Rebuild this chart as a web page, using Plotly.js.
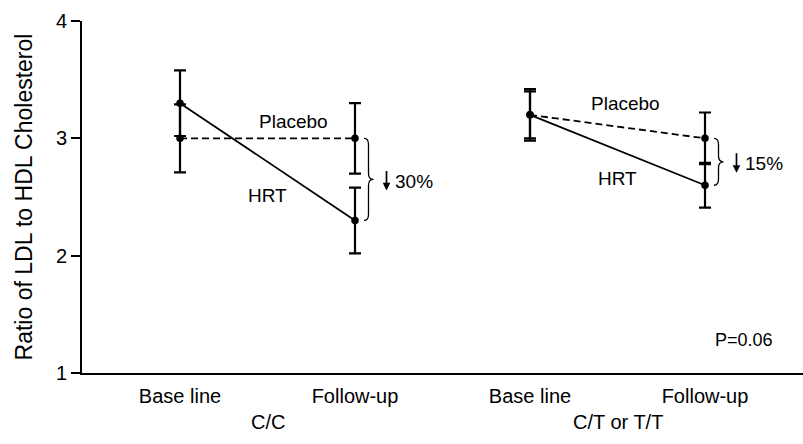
<!DOCTYPE html>
<html>
<head>
<meta charset="utf-8">
<script src="https://cdn.plot.ly/plotly-3.0.1.min.js"></script>
<style>html,body{margin:0;padding:0;background:#fff;}#chart{width:803px;height:444px;}</style>
</head>
<body>
<div id="chart"></div>
<script>
// ---- data ----
const timepoints = ['Base line', 'Follow-up', 'Base line', 'Follow-up'];
const groups = ['C/C', 'C/T or T/T'];
const hrtCC = [3.3, 2.3];
const hrtCCerr = [0.28, 0.28];
const placeboCC = [3.0, 3.0];
const placeboCCerr = [0.29, 0.30];
const hrtCT = [3.2, 2.6];
const hrtCTerr = [0.20, 0.19];
const placeboCT = [3.2, 3.0];
const placeboCTerr = [0.22, 0.22];
const reductions = ['30%', '15%'];
const pText = 'P=0.06';

// ---- layout helpers ----
const W = 803, H = 444;
const M = {l: 82, r: 0, t: 21, b: 71};
const xRange = [-0.56, 3.56];
const yRange = [1, 4];
const pxX = (W - M.l - M.r) / (xRange[1] - xRange[0]);
const pxY = (H - M.t - M.b) / (yRange[1] - yRange[0]);
const dx = p => p / pxX;
const dy = p => p / pxY;
const FONT = 'Liberation Sans, Arial, Helvetica, sans-serif';

function series(xs, ys, errs, dash) {
  return {
    type: 'scatter', mode: 'lines+markers', x: xs, y: ys,
    line: {color: '#000', width: 1.8, dash: dash},
    marker: {color: '#000', size: 7.5},
    error_y: {type: 'data', array: errs, visible: true, color: '#000', thickness: 2.2, width: 6},
    showlegend: false, hoverinfo: 'skip'
  };
}

const data = [
  series([0, 1], placeboCC, placeboCCerr, '7px,4px'),
  series([0, 1], hrtCC, hrtCCerr, 'solid'),
  series([2, 3], placeboCT, placeboCTerr, '7px,4px'),
  series([2, 3], hrtCT, hrtCTerr, 'solid')
];

function bracePath(x, yT, yB) {
  const a = x + dx(9), m = x + dx(13.5), t = x + dx(18.5);
  const r = dy(6);
  const mid = (yT + yB) / 2;
  return `M ${a},${yT} Q ${m},${yT} ${m},${yT - r} L ${m},${mid + r} Q ${m},${mid} ${t},${mid} ` +
         `Q ${m},${mid} ${m},${mid - r} L ${m},${yB + r} Q ${m},${yB} ${a},${yB}`;
}

const shapes = [
  {type: 'path', xref: 'x', yref: 'y', path: bracePath(1, placeboCC[1], hrtCC[1]), line: {color: '#000', width: 1.3}},
  {type: 'path', xref: 'x', yref: 'y', path: bracePath(3, placeboCT[1], hrtCT[1]), line: {color: '#000', width: 1.3}}
];

const txt = (x, y, text, extra) => Object.assign({
  x: x, y: y, xref: 'x', yref: 'y', text: text, showarrow: false,
  font: {family: FONT, size: 19, color: '#000'}
}, extra || {});

const midCC = (placeboCC[1] + hrtCC[1]) / 2;
const midCT = (placeboCT[1] + hrtCT[1]) / 2;

const annotations = [
  txt(0.65, 3.14, 'Placebo'),
  txt(0.50, 2.515, 'HRT'),
  txt(2.543, 3.30, 'Placebo'),
  txt(2.50, 2.66, 'HRT'),
  // arrows
  {x: 1 + dx(31.5), y: midCC - dy(11), xref: 'x', yref: 'y', ax: 0, ay: -21, showarrow: true,
   arrowhead: 2, arrowsize: 0.9, arrowwidth: 1.7, arrowcolor: '#000', text: '', standoff: 0},
  {x: 3 + dx(31.5), y: midCT - dy(11), xref: 'x', yref: 'y', ax: 0, ay: -21, showarrow: true,
   arrowhead: 2, arrowsize: 0.9, arrowwidth: 1.7, arrowcolor: '#000', text: '', standoff: 0},
  txt(1, midCC, reductions[0], {xanchor: 'left', xshift: 38, yshift: -2}),
  txt(3, midCT, reductions[1], {xanchor: 'left', xshift: 38, yshift: -2}),
  txt(3.223, 1.279, pText, {font: {family: FONT, size: 18, color: '#000'}}),
  // group labels
  {x: 0.5, y: -0.177, xref: 'x', yref: 'paper', text: groups[0], showarrow: false,
   font: {family: FONT, size: 20, color: '#000'}},
  {x: 2.5, y: -0.177, xref: 'x', yref: 'paper', text: groups[1], showarrow: false,
   font: {family: FONT, size: 20, color: '#000'}}
];

const layout = {
  width: W, height: H,
  margin: M,
  paper_bgcolor: '#fff', plot_bgcolor: '#fff',
  showlegend: false,
  font: {family: FONT, color: '#000'},
  xaxis: {
    range: xRange, showgrid: false, zeroline: false,
    showline: true, linecolor: '#000', linewidth: 2,
    tickvals: [0, 1, 2, 3], ticktext: timepoints, ticks: '',
    ticklabelstandoff: 4,
    tickfont: {family: FONT, size: 20, color: '#000'}
  },
  yaxis: {
    range: yRange, showgrid: false, zeroline: false,
    showline: true, linecolor: '#000', linewidth: 2,
    tickvals: [1, 2, 3, 4], ticks: 'outside', ticklen: 9, tickwidth: 2, tickcolor: '#000',
    tickfont: {family: FONT, size: 20, color: '#000'},
    title: {text: 'Ratio of LDL to HDL Cholesterol', font: {family: FONT, size: 23, color: '#000'}, standoff: 17}
  },
  shapes: shapes,
  annotations: annotations
};

Plotly.newPlot('chart', data, layout, {staticPlot: true, displayModeBar: false});
</script>
</body>
</html>
